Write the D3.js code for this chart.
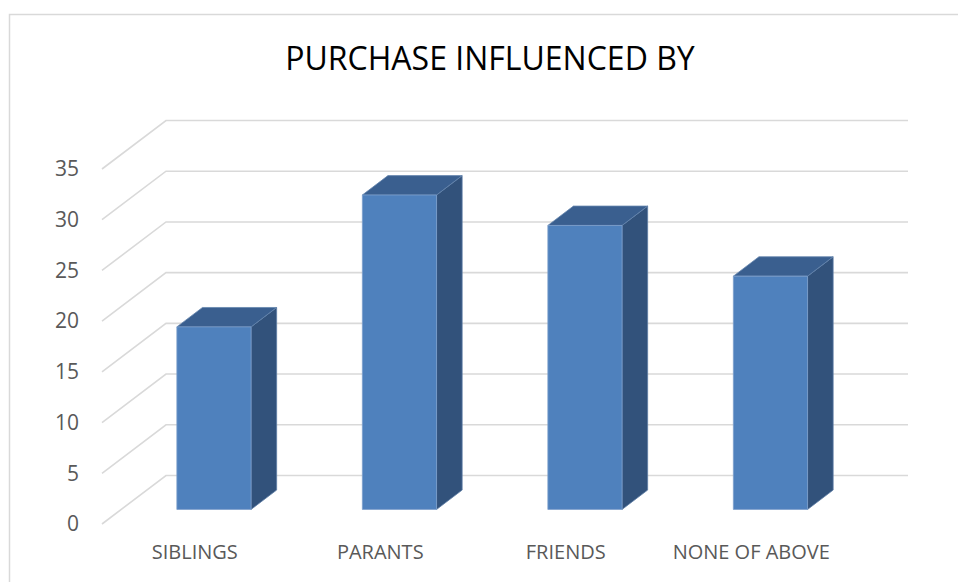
<!DOCTYPE html>
<html>
<head>
<meta charset="utf-8">
<script src="https://cdn.jsdelivr.net/npm/d3@7"></script>
<style>
  html, body { margin: 0; padding: 0; background: #fff; }
  svg { display: block; }
</style>
</head>
<body>
<svg id="chart" width="958" height="582"></svg>
<script>
// Survey answers: what influenced the purchase
const categories = ["SIBLINGS", "PARANTS", "FRIENDS", "NONE OF ABOVE"];
const values = [18, 31, 28, 23];
const yTicks = [0, 5, 10, 15, 20, 25, 30, 35];
const title = "PURCHASE INFLUENCED BY";

const W = 958, H = 582;
const svg = d3.select("#chart");

// Pseudo-3D layout: a floor running from the front edge (z = 0) to the back wall (z = 1)
const floorLeft = 102;      // x of the front-left corner
const floorWidth = 742;     // width of the category axis
const depthDX = 64;         // screen shift of the full depth
const depthDY = -48.5;
const barZ0 = 0.3, barZ1 = 0.7;

const x = d3.scaleBand()
  .domain(categories)
  .range([0, floorWidth])
  .paddingInner(0.6)
  .paddingOuter(0.3);

const y = d3.scaleLinear().domain([0, 35]).range([524, 169]);

function project(px, v, z) {
  return [floorLeft + px + depthDX * z, y(v) + depthDY * z];
}

// Chart area border
svg.append("rect")
  .attr("x", 9.5).attr("y", 14.5)
  .attr("width", W + 10).attr("height", H + 10)
  .attr("fill", "none")
  .attr("stroke", "#d9d9d9")
  .attr("stroke-width", 1.5);

// Title
svg.append("text")
  .attr("x", 490).attr("y", 70)
  .attr("text-anchor", "middle")
  .attr("font-family", "'Open Sans', sans-serif")
  .attr("font-size", 32)
  .attr("fill", "#000")
  .text(title);

// Gridlines: side wall diagonal, then along the back wall
const line = d3.line();
svg.append("g")
  .selectAll("path")
  .data(yTicks)
  .join("path")
  .attr("d", t => line([project(0, t, 0), project(0, t, 1), project(floorWidth, t, 1)]))
  .attr("fill", "none")
  .attr("stroke", "#d9d9d9")
  .attr("stroke-width", 1.6);

// Value axis labels
const yAxis = d3.axisLeft(y).tickValues(yTicks).tickSize(0).tickPadding(3);
const gy = svg.append("g").attr("transform", "translate(82,0)").call(yAxis);
gy.select(".domain").remove();
gy.selectAll("text")
  .attr("font-family", "'Open Sans', sans-serif")
  .attr("font-size", 21)
  .attr("fill", "#595959");

// Category labels along the front edge
const xAxis = d3.axisBottom(x).tickSize(0).tickPadding(0);
const gx = svg.append("g").attr("transform", `translate(${floorLeft},545)`).call(xAxis);
gx.select(".domain").remove();
gx.selectAll("text")
  .attr("font-family", "'Open Sans', sans-serif")
  .attr("font-size", 20)
  .attr("fill", "#595959")
  .attr("dy", "0.71em");

// Columns: front, side and top faces
const poly = pts => "M" + pts.map(p => p.join(",")).join("L") + "Z";
const bars = svg.append("g")
  .selectAll("g")
  .data(categories.map((c, i) => ({ c, v: values[i] })))
  .join("g");

bars.append("path")
  .attr("d", d => {
    const x1 = x(d.c) + x.bandwidth();
    return poly([project(x1, 0, barZ0), project(x1, 0, barZ1), project(x1, d.v, barZ1), project(x1, d.v, barZ0)]);
  })
  .attr("fill", "#32527b")
  .attr("stroke", "#5d7ca4")
  .attr("stroke-width", 0.8)
  .attr("stroke-linejoin", "round");

bars.append("path")
  .attr("d", d => {
    const x0 = x(d.c), x1 = x0 + x.bandwidth();
    return poly([project(x0, d.v, barZ0), project(x0, d.v, barZ1), project(x1, d.v, barZ1), project(x1, d.v, barZ0)]);
  })
  .attr("fill", "#3a5f8f")
  .attr("stroke", "#6585ad")
  .attr("stroke-width", 0.8)
  .attr("stroke-linejoin", "round");

bars.append("path")
  .attr("d", d => {
    const x0 = x(d.c), x1 = x0 + x.bandwidth();
    return poly([project(x0, 0, barZ0), project(x1, 0, barZ0), project(x1, d.v, barZ0), project(x0, d.v, barZ0)]);
  })
  .attr("fill", "#4f81bd")
  .attr("stroke", "#7d9fcb")
  .attr("stroke-width", 0.8)
  .attr("stroke-linejoin", "round");
</script>
</body>
</html>
